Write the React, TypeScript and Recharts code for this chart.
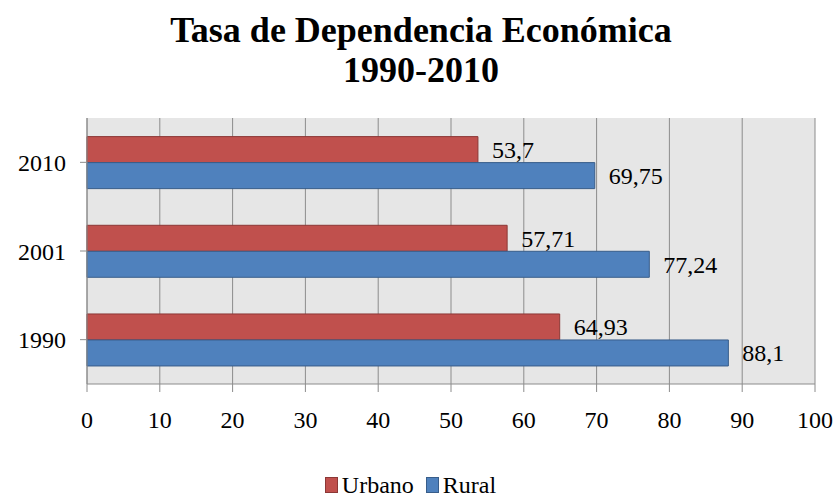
import React from 'react';
import { BarChart, Bar, XAxis, YAxis, CartesianGrid, Legend, LabelList } from 'recharts';

const years = ['2010', '2001', '1990'];
const urbano = [53.7, 57.71, 64.93];
const rural = [69.75, 77.24, 88.1];
const xTicks = [0, 10, 20, 30, 40, 50, 60, 70, 80, 90, 100];
const seriesNames = ['Urbano', 'Rural'];
const seriesColors = ['#c0504d', '#4f81bd'];
const seriesStrokes = ['#8c3836', '#385d8a'];

const data = years.map((y, i) => ({ year: y, Urbano: urbano[i], Rural: rural[i] }));

const fmt = (v: any) => String(v).replace('.', ',');
const FONT = '"Liberation Serif", serif';

const LegendContent = () => (
  <div style={{ display: 'flex', justifyContent: 'center', alignItems: 'center', fontFamily: FONT, fontSize: 24, color: '#000', lineHeight: '24px', paddingTop: 3, paddingLeft: 6 }}>
    {seriesNames.map((n, i) => (
      <div key={n} style={{ display: 'flex', alignItems: 'center', marginRight: i === 0 ? 12 : 0 }}>
        <span style={{ display: 'inline-block', width: 11, height: 14, background: seriesColors[i], border: `1px solid ${seriesStrokes[i]}`, marginRight: 4 }} />
        <span>{n}</span>
      </div>
    ))}
  </div>
);

export default function App() {
  return (
    <div style={{ position: 'absolute', left: 0, top: 0, width: 836, height: 500, background: '#fff' }}>
      <div style={{ position: 'absolute', left: 3, top: 10, width: 836, textAlign: 'center', fontFamily: FONT, fontWeight: 'bold', fontSize: 36, lineHeight: '40px', color: '#000' }}>
        Tasa de Dependencia Económica<br />1990-2010
      </div>
      <BarChart
        width={836}
        height={500}
        data={data}
        layout="vertical"
        margin={{ top: 118, right: 21, left: 0, bottom: 0 }}
        barCategoryGap="21%"
        barGap={0}
      >
        <CartesianGrid horizontal={false} vertical={true} stroke="#8c8c8c" fill="#e6e6e6" />
        <XAxis
          type="number"
          domain={[0, 100]}
          ticks={xTicks}
          interval={0}
          height={86}
          tickSize={8}
          tickMargin={19}
          stroke="#8c8c8c"
          tick={{ fill: '#000', fontSize: 24, fontFamily: FONT }}
        />
        <YAxis
          type="category"
          dataKey="year"
          width={87}
          tickSize={7}
          tickMargin={14}
          stroke="#8c8c8c"
          tick={{ fill: '#000', fontSize: 24, fontFamily: FONT }}
        />
        <Legend verticalAlign="bottom" height={30} content={<LegendContent />} />
        <Bar dataKey="Urbano" fill={seriesColors[0]} stroke={seriesStrokes[0]} strokeWidth={1} isAnimationActive={false}>
          <LabelList dataKey="Urbano" position="right" offset={14} formatter={fmt} style={{ fill: '#000', fontSize: 24, fontFamily: FONT }} />
        </Bar>
        <Bar dataKey="Rural" fill={seriesColors[1]} stroke={seriesStrokes[1]} strokeWidth={1} isAnimationActive={false}>
          <LabelList dataKey="Rural" position="right" offset={14} formatter={fmt} style={{ fill: '#000', fontSize: 24, fontFamily: FONT }} />
        </Bar>
      </BarChart>
    </div>
  );
}
